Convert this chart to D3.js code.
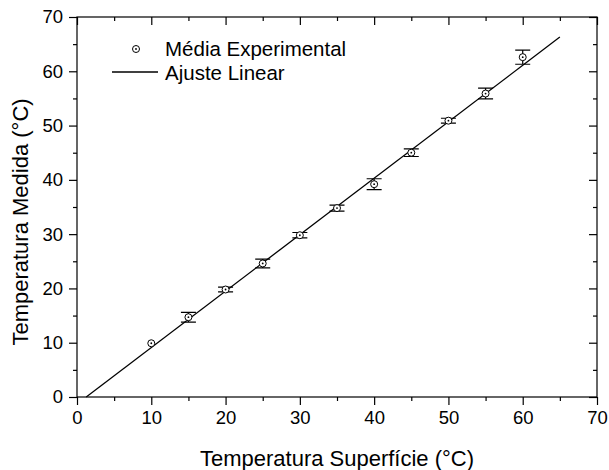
<!DOCTYPE html>
<html lang="pt">
<head>
<meta charset="UTF-8">
<title>Temperatura Medida vs Superfície</title>
<script src="https://d3js.org/d3.v7.min.js"></script>
<style>
    html, body {
        margin: 0;
        background: white;
    }
    svg text {
        font-family: "Liberation Sans", Arial, sans-serif;
        fill: black;
    }
</style>
</head>
<body>
<div id="vis"></div>
<script>
    // dados
    var tempSuperficie = [10, 15, 20, 25, 30, 35, 40, 45, 50, 55, 60];
    var tempMedida = [9.9, 14.7, 19.8, 24.6, 29.8, 34.8, 39.2, 45.0, 50.9, 55.9, 62.6];
    var erro = [0, 0.9, 0.45, 0.8, 0.5, 0.55, 1.0, 0.7, 0.45, 1.0, 1.3];

    // ajuste linear (extremos da reta)
    var ajusteX = [1.24, 65];
    var ajusteY = [0, 66.3];

    var xTicks = [0, 10, 20, 30, 40, 50, 60, 70];
    var yTicks = [0, 10, 20, 30, 40, 50, 60, 70];
    var minorTicks = [5, 15, 25, 35, 45, 55, 65];

    var width = 609, height = 470;
    var margin = {top: 17, right: 12, bottom: 73, left: 77};
    var w = width - margin.left - margin.right;
    var h = height - margin.top - margin.bottom;

    var svg = d3.select('#vis')
        .append('svg')
            .attr('width', width)
            .attr('height', height)
        .append('g')
            .attr('transform', 'translate(' + margin.left + ',' + margin.top + ')');

    var x = d3.scaleLinear().domain([0, 70]).range([0, w]);
    var y = d3.scaleLinear().domain([0, 70]).range([h, 0]);

    // moldura
    svg.append('rect')
        .attr('x', 0).attr('y', 0)
        .attr('width', w).attr('height', h)
        .attr('fill', 'none')
        .attr('stroke', 'black')
        .attr('stroke-width', 1.2);

    function styleAxis(g) {
        g.select('.domain').remove();
        g.selectAll('line').attr('stroke', 'black').attr('stroke-width', 1.2);
    }

    // eixos principais
    svg.append('g')
        .attr('transform', 'translate(0,' + h + ')')
        .call(d3.axisBottom(x).tickValues(xTicks).tickSize(8).tickPadding(6).tickFormat(d3.format('d')))
        .call(styleAxis)
        .selectAll('text').style('font-size', '18.5px');
    svg.append('g')
        .attr('transform', 'translate(0,' + h + ')')
        .call(d3.axisBottom(x).tickValues(minorTicks).tickSize(4).tickFormat(''))
        .call(styleAxis);

    svg.append('g')
        .call(d3.axisLeft(y).tickValues(yTicks).tickSize(8).tickPadding(6).tickFormat(d3.format('d')))
        .call(styleAxis)
        .selectAll('text').style('font-size', '18.5px');
    svg.append('g')
        .call(d3.axisLeft(y).tickValues(minorTicks).tickSize(4).tickFormat(''))
        .call(styleAxis);

    // espelhos (topo e direita), ticks para dentro
    svg.append('g')
        .call(d3.axisTop(x).tickValues(xTicks).tickSize(-8).tickFormat(''))
        .call(styleAxis);
    svg.append('g')
        .call(d3.axisTop(x).tickValues(minorTicks).tickSize(-4).tickFormat(''))
        .call(styleAxis);
    svg.append('g')
        .attr('transform', 'translate(' + w + ',0)')
        .call(d3.axisRight(y).tickValues(yTicks).tickSize(-8).tickFormat(''))
        .call(styleAxis);
    svg.append('g')
        .attr('transform', 'translate(' + w + ',0)')
        .call(d3.axisRight(y).tickValues(minorTicks).tickSize(-4).tickFormat(''))
        .call(styleAxis);

    // títulos dos eixos
    svg.append('text')
        .attr('x', w / 2)
        .attr('y', h + 69)
        .attr('text-anchor', 'middle')
        .style('font-size', '22px')
        .text('Temperatura Superfície (°C)');

    svg.append('text')
        .attr('transform', 'translate(-49,' + (h / 2 + 15) + ')rotate(-90)')
        .attr('text-anchor', 'middle')
        .style('font-size', '22px')
        .text('Temperatura Medida (°C)');

    // reta de ajuste
    var line = d3.line()
        .x(function(d, i){ return x(d); })
        .y(function(d, i){ return y(ajusteY[i]); });

    svg.append('path')
        .datum(ajusteX)
        .attr('d', line)
        .attr('fill', 'none')
        .attr('stroke', 'black')
        .attr('stroke-width', 1.3);

    // pontos com barras de erro
    var dados = tempSuperficie.map(function(d, i){
        return {x: d, y: tempMedida[i], e: erro[i]};
    });

    var pts = svg.selectAll('.ponto')
        .data(dados)
        .enter()
        .append('g')
        .attr('class', 'ponto');

    var cap = 7.5;
    pts.filter(function(d){ return d.e > 0; })
        .append('path')
        .attr('d', function(d){
            var cx = x(d.x), y1 = y(d.y + d.e), y2 = y(d.y - d.e);
            return 'M' + (cx - cap) + ',' + y1 + 'H' + (cx + cap) +
                   'M' + cx + ',' + y1 + 'V' + y2 +
                   'M' + (cx - cap) + ',' + y2 + 'H' + (cx + cap);
        })
        .attr('fill', 'none')
        .attr('stroke', 'black')
        .attr('stroke-width', 1.2);

    pts.append('circle')
        .attr('cx', function(d){ return x(d.x); })
        .attr('cy', function(d){ return y(d.y); })
        .attr('r', 3.5)
        .attr('fill', 'white')
        .attr('stroke', 'black')
        .attr('stroke-width', 1);

    pts.append('circle')
        .attr('cx', function(d){ return x(d.x); })
        .attr('cy', function(d){ return y(d.y); })
        .attr('r', 0.9)
        .attr('fill', 'black');

    // legenda
    var leg = svg.append('g');
    leg.append('circle')
        .attr('cx', 59).attr('cy', 32)
        .attr('r', 3.5)
        .attr('fill', 'white')
        .attr('stroke', 'black');
    leg.append('circle')
        .attr('cx', 59).attr('cy', 32)
        .attr('r', 0.9)
        .attr('fill', 'black');
    leg.append('text')
        .attr('x', 88).attr('y', 38.5)
        .style('font-size', '20.5px')
        .text('Média Experimental');

    leg.append('line')
        .attr('x1', 35).attr('x2', 81)
        .attr('y1', 55).attr('y2', 55)
        .attr('stroke', 'black')
        .attr('stroke-width', 1.3);
    leg.append('text')
        .attr('x', 88).attr('y', 62.5)
        .style('font-size', '20.5px')
        .text('Ajuste Linear');
</script>
</body>
</html>
